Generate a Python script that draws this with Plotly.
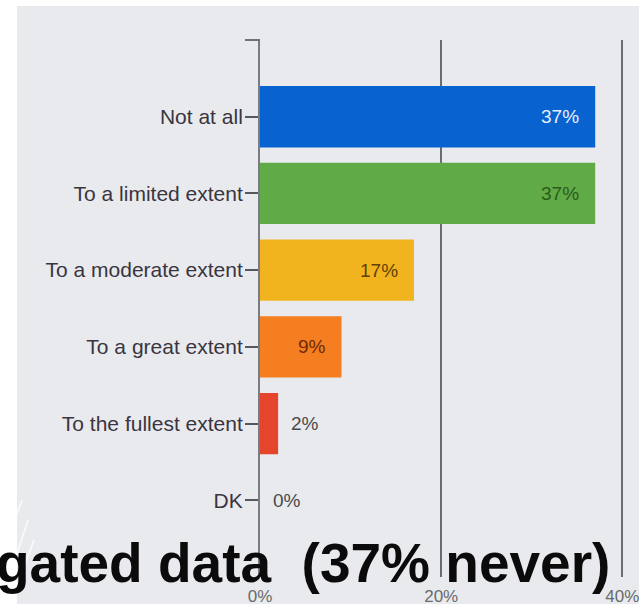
import plotly.graph_objects as go

# Survey responses (share of respondents, %)
categories = ["Not at all", "To a limited extent", "To a moderate extent",
              "To a great extent", "To the fullest extent", "DK"]
values = [37, 37, 17, 9, 2, 0]
bar_colors = ["#0862d0", "#60ab46", "#f1b41f", "#f47e20", "#e4452b", "#e4452b"]
label_colors = ["#e6eefa", "#2c5a1c", "#5e4206", "#6e2a05", "#4a4a4a", "#4a4a4a"]
x_ticks = [0, 20, 40]
x_tick_text = ["0%", "20%", "40%"]
headline = "gated data \u00a0(37% never)"

W, H = 639, 604
L, R, T, B = 260, 13, 40, 27
PW, PH = W - L - R, H - T - B


def px_x(p):
    return (p - L) / PW


def px_y(p):
    return 1 - (p - T) / PH


fig = go.Figure(go.Bar(
    x=values, y=categories, orientation="h",
    marker=dict(color=bar_colors, line=dict(width=0)),
    width=0.8, hoverinfo="skip",
))

# value labels: inside the bar end for wide bars, just past the end otherwise
annotations = []
for cat, v, c in zip(categories, values, label_colors):
    inside = v >= 5
    annotations.append(dict(
        x=v, y=cat, xref="x", yref="y", text=f"{v}%", showarrow=False,
        xanchor="right" if inside else "left", xshift=-14 if inside else 11,
        font=dict(family="Liberation Sans, Arial", size=19, color=c),
    ))

annotations.append(dict(
    x=px_x(612), y=px_y(563), xref="paper", yref="paper", text=f"<b>{headline}</b>",
    showarrow=False, xanchor="right", yanchor="middle",
    font=dict(family="Liberation Sans, Arial", size=55, color="#0b0b0b"),
))

shapes = [
    # slide panel behind the chart
    dict(type="rect", xref="paper", yref="paper", x0=px_x(17), x1=px_x(W + 5),
         y0=px_y(H + 5), y1=px_y(6), fillcolor="#e8eaee", line=dict(width=0), layer="below"),
    # cap tick at the top of the category axis
    dict(type="line", xref="paper", yref="paper", x0=px_x(245), x1=0, y0=1, y1=1,
         line=dict(color="#6f7178", width=2)),
]
# light sketch strokes in the lower-left corner
for x0, y0, x1, y1 in [(0, 520, 16, 480), (0, 560, 22, 500), (2, 600, 28, 520),
                       (10, 604, 34, 540), (0, 590, 12, 560)]:
    shapes.append(dict(type="line", xref="paper", yref="paper",
                       x0=px_x(x0), y0=px_y(y0), x1=px_x(x1), y1=px_y(y1),
                       line=dict(color="rgba(255,255,255,0.85)", width=1.5)))

fig.update_layout(
    width=W, height=H,
    margin=dict(l=L, r=R, t=T, b=B, pad=0, autoexpand=False),
    paper_bgcolor="#ffffff", plot_bgcolor="rgba(0,0,0,0)",
    showlegend=False,
    annotations=annotations, shapes=shapes,
    xaxis=dict(range=[0, 40.4], tickvals=x_ticks, ticktext=x_tick_text,
               showgrid=True, gridcolor="#686c75", gridwidth=1.5,
               zeroline=False, showline=False, ticks="", automargin=False,
               ticklabelstandoff=7, ticklabeloverflow="allow",
               tickfont=dict(family="Liberation Sans, Arial", size=17, color="#6a6a6a")),
    yaxis=dict(type="category", categoryorder="array", categoryarray=categories,
               range=[6, -1], showgrid=False, zeroline=False, automargin=False,
               showline=True, linecolor="#7a7c83", linewidth=2,
               ticks="outside", ticklen=13, tickwidth=1.5, tickcolor="#55575e",
               ticklabelstandoff=-2,
               tickfont=dict(family="Liberation Sans, Arial", size=21, color="#3a3540")),
)

fig.write_html("out.html")
